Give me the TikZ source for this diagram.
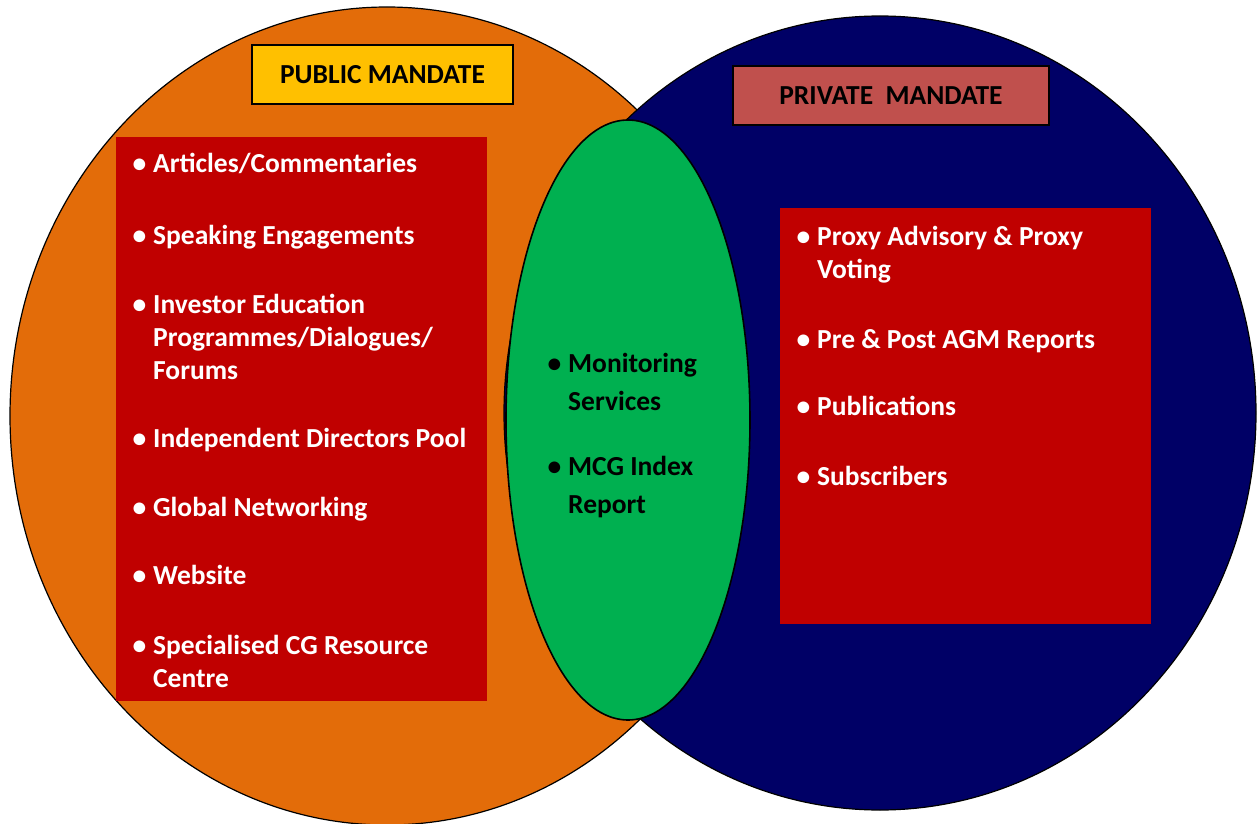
\documentclass[tikz,border=0pt]{standalone}
\usepackage{fontspec}
\setmainfont{Carlito}
\usepackage{tikz}
\definecolor{pubfill}{HTML}{E36C09}
\definecolor{privfill}{HTML}{000066}
\definecolor{overlapfill}{HTML}{00B050}
\definecolor{listfill}{HTML}{C00000}
\definecolor{pubheadfill}{HTML}{FFC000}
\definecolor{privheadfill}{HTML}{C0504D}
\newcommand{\bulgap}{7pt}
\newcommand{\bul}{\llap{\textbullet\hspace{\bulgap}}}
\newcommand{\itemfont}{\fontsize{27.5}{33}\selectfont\bfseries}
\newcommand{\itemlines}[1]{\begin{tabular}[t]{@{}l@{}}#1\end{tabular}}

\begin{document}
\begin{tikzpicture}[x=1pt,y=-1pt,
  headbox/.style={draw=black,line width=1.6pt,inner sep=0pt,font=\itemfont},
  listbox/.style={fill=listfill,inner sep=0pt},
  listtext/.style={anchor=base west,inner sep=0pt,text=white,font=\itemfont},
  overtext/.style={listtext,text=black,font=\fontsize{27.5}{38}\selectfont\bfseries}]
    \useasboundingbox (0,0) rectangle (1259,824);
    % public circle
    \filldraw[fill=pubfill,line width=1.2pt] (387,416) ellipse [x radius=377, y radius=409];
    % private circle
    \filldraw[fill=privfill,line width=1.2pt] (880,413) ellipse [x radius=376, y radius=397];
    % overlap
    \filldraw[fill=overlapfill,line width=1.6pt] (628,420) ellipse [x radius=122, y radius=300];
    % headers
    \node[headbox,fill=pubheadfill,minimum width=261pt,minimum height=59pt]
      (pubhead) at (382.5,74.5) {PUBLIC MANDATE};
    \node[headbox,fill=privheadfill,minimum width=316pt,minimum height=59pt]
      (privhead) at (891,95.5) {PRIVATE\ \ MANDATE};
    % list boxes
    \node[listbox,minimum width=371pt,minimum height=564pt] (publist) at (301.5,419) {};
    \node[listbox,minimum width=371pt,minimum height=416pt] (privlist) at (965.5,416) {};
    % public items
    \foreach \nm/\yb/\txt in {
      pubA/173/{Articles/Commentaries},
      pubB/244/{Speaking Engagements},
      pubC/313/{Investor Education\\Programmes/Dialogues/\\Forums},
      pubD/447/{Independent Directors Pool},
      pubE/516/{Global Networking},
      pubF/584/{Website},
      pubG/654/{Specialised CG Resource\\Centre}}
      \node[listtext] (\nm) at (153,\yb) {\itemlines{\bul\txt}};
    % private items
    \foreach \nm/\yb/\txt in {
      privA/245/{Proxy Advisory \& Proxy\\Voting},
      privB/348/{Pre \& Post AGM Reports},
      privC/415/{Publications},
      privD/485/{Subscribers}}
      \node[listtext] (\nm) at (817,\yb) {\itemlines{\bul\txt}};
    % overlap items
    \foreach \nm/\yb/\txt in {
      overA/372/{Monitoring\\Services},
      overB/475/{MCG Index\\Report}}
      \node[overtext] (\nm) at (568,\yb) {\itemlines{\bul\txt}};
\end{tikzpicture}
\end{document}
